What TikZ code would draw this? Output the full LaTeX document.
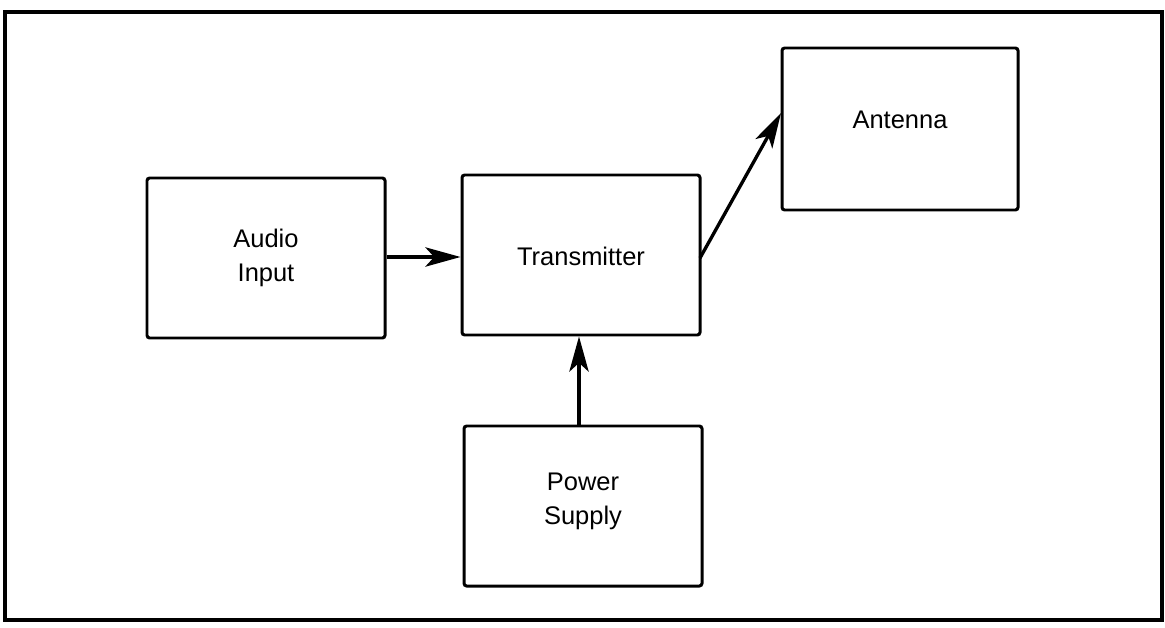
\documentclass[tikz,border=0pt]{standalone}
\usepackage{fontspec}
\setmainfont{Liberation Sans}
\usetikzlibrary{arrows.meta}
\begin{document}
\begin{tikzpicture}[x=0.02cm,y=-0.02cm,
  blk/.style={draw, line width=1.7pt, rounded corners=1.5pt, inner sep=0pt},
  blktxt/.style={align=center, font=\fontsize{14.5}{19.5}\selectfont, inner sep=0pt},
  conn/.style={line width=1.9pt, -{Stealth[length=20pt,width=11pt,inset=5pt]}}]
\useasboundingbox (0,0) rectangle (1165,628);
\draw[line width=2.2pt] (5,12) rectangle (1162,620);
\node[blk, minimum width=238*0.02cm, minimum height=160*0.02cm,
  label={[blktxt]center:Audio\\Input}] (audio) at (266,258) {};
\node[blk, minimum width=238*0.02cm, minimum height=160*0.02cm,
  label={[blktxt, yshift=-1pt]center:Transmitter}] (tx) at (581,255) {};
\node[blk, minimum width=236*0.02cm, minimum height=162*0.02cm,
  label={[blktxt, yshift=5pt]center:Antenna}] (ant) at (900,129) {};
\node[blk, minimum width=238*0.02cm, minimum height=160*0.02cm,
  label={[blktxt, yshift=2.5pt]center:Power\\Supply}] (ps) at (583,506) {};
\draw[conn] (audio.east |- 0,257) -- (tx.west |- 0,257);
\draw[conn] (ps.north -| 579,0) -- (tx.south -| 579,0);
\coordinate (txo) at (700,258);
\coordinate (anti) at (781,113);
\draw[conn] (txo) -- (anti);
\end{tikzpicture}
\end{document}
